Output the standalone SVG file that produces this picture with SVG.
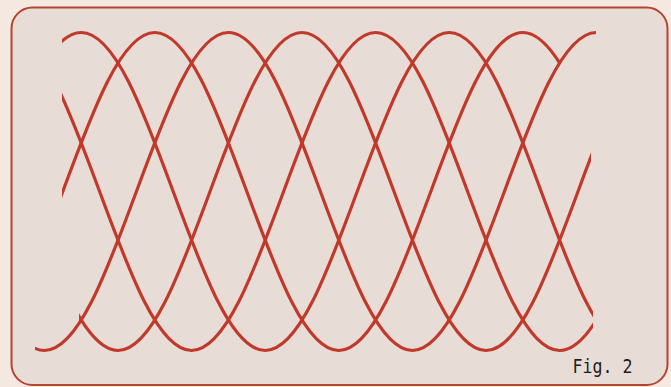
<svg xmlns="http://www.w3.org/2000/svg" xmlns:xlink="http://www.w3.org/1999/xlink" width="671" height="387" viewBox="0 0 671 387">
  <style>
    .wave { fill: none; stroke: #c0392b; stroke-width: 3.2; stroke-linecap: round; }
    .frame { fill: #e7ddd6; stroke: #b3452f; stroke-width: 2; }
    .label { font-family: "DejaVu Sans Mono", "Liberation Mono", monospace; font-size: 19px; fill: #1e1e1e; }
  </style>
  <defs>
    <path id="base" d="M -368,32.5 C -334.7,32.5 -306,110.05 -276,191.5 C -246,272.95 -217.3,350.5 -184,350.5 C -150.7,350.5 -122,272.95 -92,191.5 C -62,110.05 -33.3,32.5 0,32.5 C 33.3,32.5 62,110.05 92,191.5 C 122,272.95 150.7,350.5 184,350.5 C 217.3,350.5 246,272.95 276,191.5 C 306,110.05 334.7,32.5 368,32.5 C 401.3,32.5 430,110.05 460,191.5 C 490,272.95 518.7,350.5 552,350.5"/>
    <clipPath id="c0" clipPathUnits="userSpaceOnUse"><rect x="62" y="0" width="531" height="387"/></clipPath>
    <clipPath id="c1" clipPathUnits="userSpaceOnUse"><rect x="62" y="0" width="498" height="387"/></clipPath>
    <clipPath id="c2" clipPathUnits="userSpaceOnUse"><rect x="35" y="0" width="561" height="387"/></clipPath>
    <clipPath id="c3" clipPathUnits="userSpaceOnUse"><rect x="79" y="0" width="512" height="387"/></clipPath>
    <clipPath id="c4" clipPathUnits="userSpaceOnUse"><rect x="62" y="0" width="531" height="387"/></clipPath>
  </defs>
  <rect x="0" y="0" width="671" height="387" fill="#f4e8e1"/>
  <rect class="frame" x="11.5" y="7.5" width="656" height="377.5" rx="21" ry="21"/>
  <g id="waves">
    <g id="wave0" clip-path="url(#c0)"><use xlink:href="#base" href="#base" class="wave" transform="translate(81.2,0)"/></g>
    <g id="wave1" clip-path="url(#c1)"><use xlink:href="#base" href="#base" class="wave" transform="translate(154.8,0)"/></g>
    <g id="wave2" clip-path="url(#c2)"><use xlink:href="#base" href="#base" class="wave" transform="translate(228.4,0)"/></g>
    <g id="wave3" clip-path="url(#c3)"><use xlink:href="#base" href="#base" class="wave" transform="translate(302,0)"/></g>
    <g id="wave4" clip-path="url(#c4)"><use xlink:href="#base" href="#base" class="wave" transform="translate(375.6,0)"/></g>
  </g>
  <text id="caption" class="label" x="572.5" y="372.5" textLength="60" lengthAdjust="spacingAndGlyphs">Fig. 2</text>
</svg>
